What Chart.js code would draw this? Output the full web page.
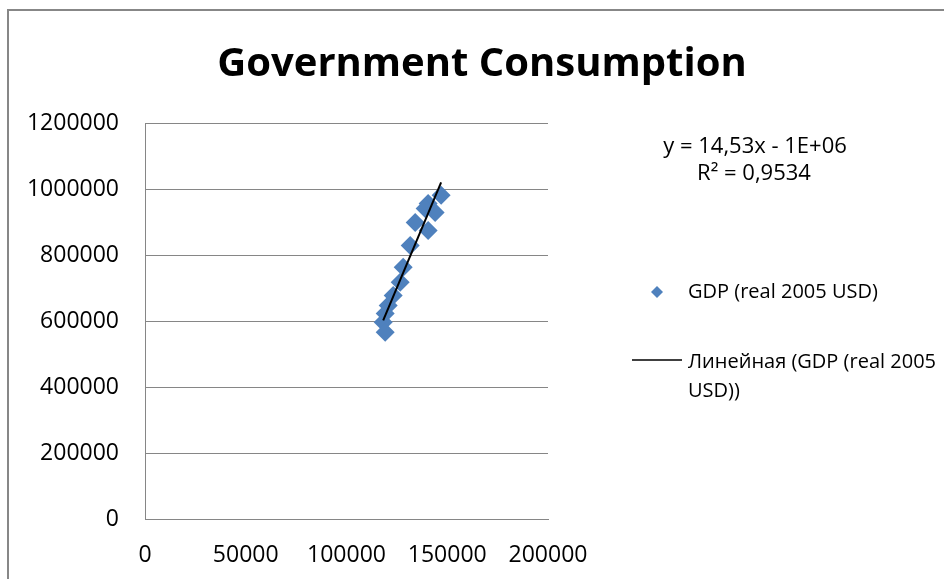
<!DOCTYPE html>
<html>
<head>
<meta charset="utf-8">
<script src="https://cdn.jsdelivr.net/npm/chart.js@4/dist/chart.umd.min.js"></script>
<style>
  html, body { margin: 0; padding: 0; background: #fff; }
  #wrap { width: 944px; height: 579px; position: relative; }
</style>
</head>
<body>
<div id="wrap"><canvas id="c" width="944" height="579"></canvas></div>
<script>
// Chart texts
const chartTitle = 'Government Consumption';
const seriesName = 'GDP (real 2005 USD)';
const trendName = 'Линейная (GDP (real 2005 USD))';
const equationText = 'y = 14,53x - 1E+06';
const r2Text = 'R² = 0,9534';

// Government consumption (x) against GDP in real 2005 USD (y)
const govConsumption = [146960, 140520, 139030, 143990, 134080, 140520, 131600, 128130, 126640, 123170, 120690, 119200, 118210, 119200];
const gdpReal2005   = [980700, 956400, 941200, 929100, 898800, 874500, 829000, 763200, 717700, 677300, 647000, 622700, 596400, 566000];

// Axis ticks
const xTicks = [0, 50000, 100000, 150000, 200000];
const yTicks = [0, 200000, 400000, 600000, 800000, 1000000, 1200000];

// Linear trend: stated slope, passing through the centroid of the points
const trendSlope = 14.53;

const FONT = '"Open Sans", "DejaVu Sans", sans-serif';
const BLUE = '#4F81BD';
const GRID = '#868686';

const points = govConsumption.map((x, i) => ({ x: x, y: gdpReal2005[i] }));
const meanX = govConsumption.reduce((a, b) => a + b, 0) / govConsumption.length;
const meanY = gdpReal2005.reduce((a, b) => a + b, 0) / gdpReal2005.length;
const trendIntercept = meanY - trendSlope * meanX;
const xMin = Math.min(...govConsumption), xMax = Math.max(...govConsumption);
const trendPoints = [
  { x: xMin, y: trendSlope * xMin + trendIntercept },
  { x: xMax, y: trendSlope * xMax + trendIntercept }
];

// Frame, title, equation and legend
const decorations = {
  id: 'decorations',
  beforeDraw(chart) {
    const ctx = chart.ctx;
    ctx.save();
    ctx.fillStyle = '#fff';
    ctx.fillRect(0, 0, chart.width, chart.height);
    ctx.strokeStyle = '#878787';
    ctx.lineWidth = 2;
    ctx.beginPath();
    ctx.moveTo(8, chart.height);
    ctx.lineTo(8, 10);
    ctx.lineTo(chart.width, 10);
    ctx.stroke();
    ctx.restore();
  },
  afterDraw(chart) {
    const ctx = chart.ctx;
    ctx.save();
    ctx.fillStyle = '#000';
    ctx.textBaseline = 'alphabetic';

    // title
    ctx.font = 'bold 40px ' + FONT;
    ctx.textAlign = 'center';
    ctx.fillText(chartTitle, 482, 76);

    // trend equation
    ctx.font = '22px ' + FONT;
    ctx.fillText(equationText, 755, 153);
    ctx.fillText(r2Text, 754, 180);

    // legend: series marker
    ctx.font = '20px ' + FONT;
    ctx.textAlign = 'left';
    const mx = 657, my = 292, mr = 6;
    ctx.fillStyle = BLUE;
    ctx.beginPath();
    ctx.moveTo(mx, my - mr);
    ctx.lineTo(mx + mr, my);
    ctx.lineTo(mx, my + mr);
    ctx.lineTo(mx - mr, my);
    ctx.closePath();
    ctx.fill();
    ctx.fillStyle = '#000';
    ctx.fillText(seriesName, 688, 298);

    // legend: trend line sample
    ctx.strokeStyle = '#000';
    ctx.lineWidth = 1.5;
    ctx.beginPath();
    ctx.moveTo(632, 360);
    ctx.lineTo(682, 360);
    ctx.stroke();

    const words = trendName.split(' ');
    const lines = [];
    let cur = '';
    words.forEach(w => {
      const test = cur ? cur + ' ' + w : w;
      if (ctx.measureText(test).width > 256 && cur) { lines.push(cur); cur = w; }
      else cur = test;
    });
    if (cur) lines.push(cur);
    lines.forEach((ln, i) => ctx.fillText(ln, 688, 368 + i * 29));
    ctx.restore();
  }
};

function build() {
  new Chart(document.getElementById('c'), {
    type: 'scatter',
    data: {
      datasets: [
        {
          label: trendName,
          type: 'line',
          data: trendPoints,
          borderColor: '#000',
          borderWidth: 2,
          pointRadius: 0,
          fill: false,
          order: 0
        },
        {
          label: seriesName,
          data: points,
          pointStyle: 'rectRot',
          pointRadius: 9.5,
          backgroundColor: BLUE,
          borderColor: BLUE,
          borderWidth: 0,
          order: 1
        }
      ]
    },
    options: {
      responsive: false,
      animation: false,
      events: [],
      layout: { padding: { top: 123, right: 396, bottom: 0, left: 0 } },
      plugins: {
        legend: { display: false },
        title: { display: false },
        tooltip: { enabled: false }
      },
      scales: {
        x: {
          type: 'linear',
          min: xTicks[0],
          max: xTicks[xTicks.length - 1],
          ticks: {
            stepSize: xTicks[1] - xTicks[0],
            color: '#000',
            font: { family: FONT, size: 23 },
            padding: 23,
            maxRotation: 0,
            callback: v => String(v)
          },
          grid: { display: false, drawTicks: false },
          border: { display: true, color: GRID, width: 1 },
          afterFit: s => { s.height = 60; }
        },
        y: {
          type: 'linear',
          min: yTicks[0],
          max: yTicks[yTicks.length - 1],
          ticks: {
            stepSize: yTicks[1] - yTicks[0],
            color: '#000',
            font: { family: FONT, size: 23 },
            padding: 26,
            callback: v => String(v)
          },
          grid: { display: true, color: GRID, lineWidth: 1, drawTicks: false },
          border: { display: true, color: GRID, width: 1 },
          afterFit: s => { s.width = 145; }
        }
      }
    },
    plugins: [decorations]
  });
}

if (document.fonts && document.fonts.load) {
  Promise.all([
    document.fonts.load('23px "Open Sans"'),
    document.fonts.load('bold 40px "Open Sans"')
  ]).then(build, build);
} else {
  build();
}
</script>
</body>
</html>
